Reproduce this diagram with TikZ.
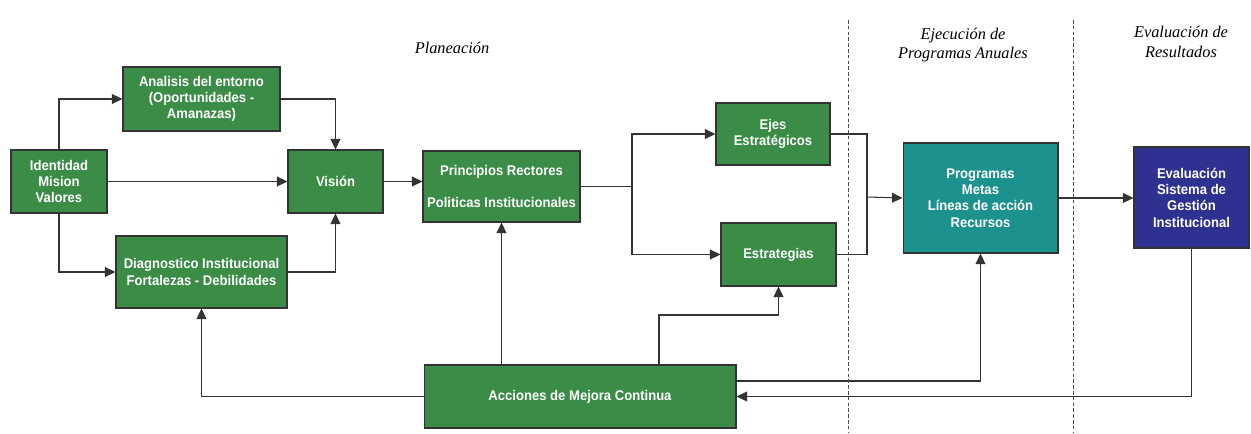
\documentclass[tikz,border=0pt]{standalone}
\usepackage{fontspec}
\usepackage{xcolor}
\usetikzlibrary{arrows.meta}
\newfontfamily\boxfont[FakeStretch=0.93]{Liberation Sans}
\newfontfamily\headfont{Liberation Serif}
\definecolor{boxgreen}{HTML}{3A8C46}
\definecolor{boxteal}{HTML}{1C918D}
\definecolor{boxblue}{HTML}{2E3190}
\definecolor{linegray}{HTML}{333333}

\begin{document}
\begin{tikzpicture}[x=0.02cm, y=-0.02cm,
  box/.style={draw=linegray, line width=0.6pt, fill=boxgreen, text=white, align=center,
    inner sep=1pt, font=\boxfont\bfseries\fontsize{8}{9.3}\selectfont},
  sz/.style 2 args={minimum width=#1*0.2mm, minimum height=#2*0.2mm},
  link/.style={draw=linegray, line width=0.6pt},
  arr/.style={link, -{Triangle[length=6pt,width=5.6pt]}},
  sep/.style={draw=gray!60!black, line width=0.5pt, dash pattern=on 2pt off 1.3pt},
  head/.style={font=\headfont\itshape\fontsize{9.3}{11.3}\selectfont, align=center}]

\useasboundingbox (0,0) rectangle (1251,433);

\node[head] (plan) at (452,48) {Planeación};
\node[head] (ejec) at (963,45) {Ejecución de\\Programas Anuales};
\node[head] (resu) at (1181,42) {Evaluación de\\Resultados};

\node[box, sz={96}{63}] (iden) at (59,181.5) {Identidad\\Mision\\Valores};
\node[box, sz={157}{64}] (anal) at (201.5,99) {Analisis del entorno\\(Oportunidades -\\Amanazas)};
\node[box, sz={95}{63}] (vis) at (335.5,181.5) {Visión};
\node[box, sz={171}{72}] (diag) at (201.5,272) {Diagnostico Institucional\\Fortalezas - Debilidades};
\node[box, sz={157}{71}] (prin) at (501.5,186.5) {Principios Rectores\\[9pt]Politicas Institucionales};
\node[box, sz={114}{62}] (ejes) at (773,134) {Ejes\\Estratégicos};
\node[box, sz={115}{63}] (estr) at (778.5,254.5) {Estrategias};
\node[box, fill=boxteal, sz={155}{110}] (prog) at (980.5,198) {Programas\\Metas\\Líneas de acción\\Recursos};
\node[box, fill=boxblue, sz={115}{101}] (eval) at (1191.5,197.5) {Evaluación\\Sistema de\\Gestión\\Institucional};
\node[box, sz={312}{63}] (acc) at (580,396.5) {Acciones de Mejora Continua};

\coordinate (split) at (632,186.5);
\coordinate (join) at (867,197);
\coordinate (k1) at (659,315);
\coordinate (k2) at (980,381);

\draw[arr] (iden.north) |- (anal.west);
\draw[arr] (anal.east) -| (vis.north);
\draw[arr] (iden.east) -- (vis.west);
\draw[arr] (iden.south) |- (diag.west);
\draw[arr] (diag.east) -| (vis.south);
\draw[arr] (vis.east) -- (vis.east -| prin.west);

\draw[link] (prin.east) -- (split);
\draw[arr] (split) |- (ejes.west);
\draw[arr] (split) |- (estr.west);
\draw[link] (ejes.east) -| (join);
\draw[link] (estr.east) -| (join);
\draw[arr] (join) -- (prog.west);
\draw[arr] (prog.east) -- (prog.east -| eval.west);

\draw[arr] (acc.west) -| (diag.south);
\draw[arr] (prin.south |- acc.north) -- (prin.south);
\draw[arr] (acc.north -| k1) -- (k1) -| (estr.south);
\draw[arr] (acc.east |- k2) -| (prog.south);
\draw[arr] (eval.south) |- (acc.east);

\draw[sep] (848,20) -- (848,433);
\draw[sep] (1073,20) -- (1073,433);

\end{tikzpicture}
\end{document}
